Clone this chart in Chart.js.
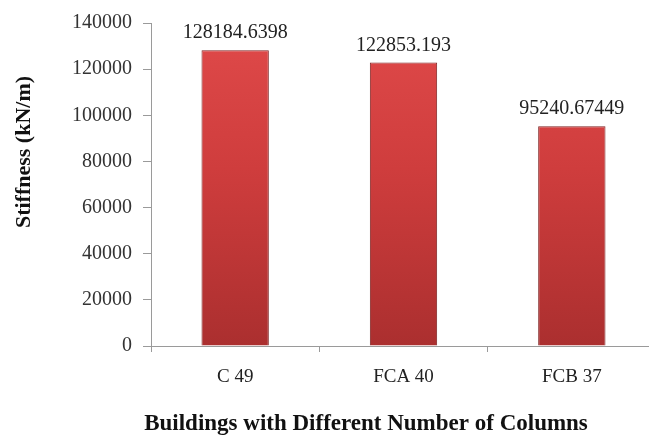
<!DOCTYPE html>
<html>
<head>
<meta charset="utf-8">
<script src="https://cdn.jsdelivr.net/npm/chart.js@4/dist/chart.umd.min.js"></script>
<style>
    html, body { margin: 0; padding: 0; background: #fff; overflow: hidden; }
    #wrap { width: 660px; height: 441px; position: relative; }
</style>
</head>
<body>
<div id="wrap"><canvas id="chart"></canvas></div>
<script>
const CATEGORIES = ['C 49', 'FCA 40', 'FCB 37'];
const STIFFNESS = [128184.6398, 122853.193, 95240.67449];
const VALUE_LABELS = ['128184.6398', '122853.193', '95240.67449'];
const Y_TICKS = [0, 20000, 40000, 60000, 80000, 100000, 120000, 140000];

const SERIF = '"Liberation Serif", "Times New Roman", serif';

const barFill = (ctx) => {
    const { chart } = ctx;
    const area = chart.chartArea;
    if (!area) return '#c83434';
    const g = chart.ctx.createLinearGradient(0, area.top, 0, area.bottom);
    g.addColorStop(0, '#e04a4a');
    g.addColorStop(0.45, '#cf3d3d');
    g.addColorStop(1, '#ab2f2f');
    return g;
};

// value labels above bars + axis titles
const annotate = {
    id: 'annotate',
    afterDatasetsDraw(chart) {
        const { ctx } = chart;
        const meta = chart.getDatasetMeta(0);
        ctx.save();
        ctx.fillStyle = '#222';
        ctx.font = `20px ${SERIF}`;
        ctx.textAlign = 'center';
        ctx.textBaseline = 'alphabetic';
        meta.data.forEach((bar, i) => {
            ctx.fillText(VALUE_LABELS[i], bar.x, bar.y - 12);
        });

        ctx.font = `bold 23px ${SERIF}`;
        ctx.fillStyle = '#111';
        ctx.textBaseline = 'middle';
        ctx.fillText('Buildings with Different Number of Columns', 366, 424);

        ctx.translate(24, 152);
        ctx.rotate(-Math.PI / 2);
        ctx.font = `bold 22px ${SERIF}`;
        ctx.fillText('Stiffness (kN/m)', 0, 0);
        ctx.restore();
    },
};

new Chart(document.getElementById('chart'), {
    type: 'bar',
    data: {
        labels: CATEGORIES,
        datasets: [
            {
                data: STIFFNESS,
                backgroundColor: barFill,
                borderColor: '#7e2222',
                borderWidth: 1,
                barPercentage: 0.8,
                categoryPercentage: 0.5,
            },
        ],
    },
    options: {
        responsive: true,
        maintainAspectRatio: false,
        animation: false,
        layout: { padding: { top: 16, left: 0, right: 4, bottom: 0 } },
        scales: {
            x: {
                afterFit: (axis) => { axis.height = 95; },
                border: { color: '#9a9a9a', width: 1 },
                grid: { drawOnChartArea: false, drawTicks: true, tickLength: 6, color: '#9a9a9a', offset: true },
                ticks: { color: '#222', padding: 14, font: { family: SERIF, size: 19 } },
            },
            y: {
                min: 0,
                max: 140000,
                afterFit: (axis) => { axis.width = 151; },
                afterBuildTicks: (axis) => { axis.ticks = Y_TICKS.map((v) => ({ value: v })); },
                border: { color: '#9a9a9a', width: 1 },
                grid: { drawOnChartArea: false, drawTicks: true, tickLength: 8, color: '#9a9a9a' },
                ticks: {
                    color: '#333',
                    padding: 11,
                    font: { family: SERIF, size: 20 },
                    callback: (v) => String(v),
                },
            },
        },
        plugins: {
            legend: { display: false },
            tooltip: { enabled: false },
        },
    },
    plugins: [annotate],
});
</script>
</body>
</html>
